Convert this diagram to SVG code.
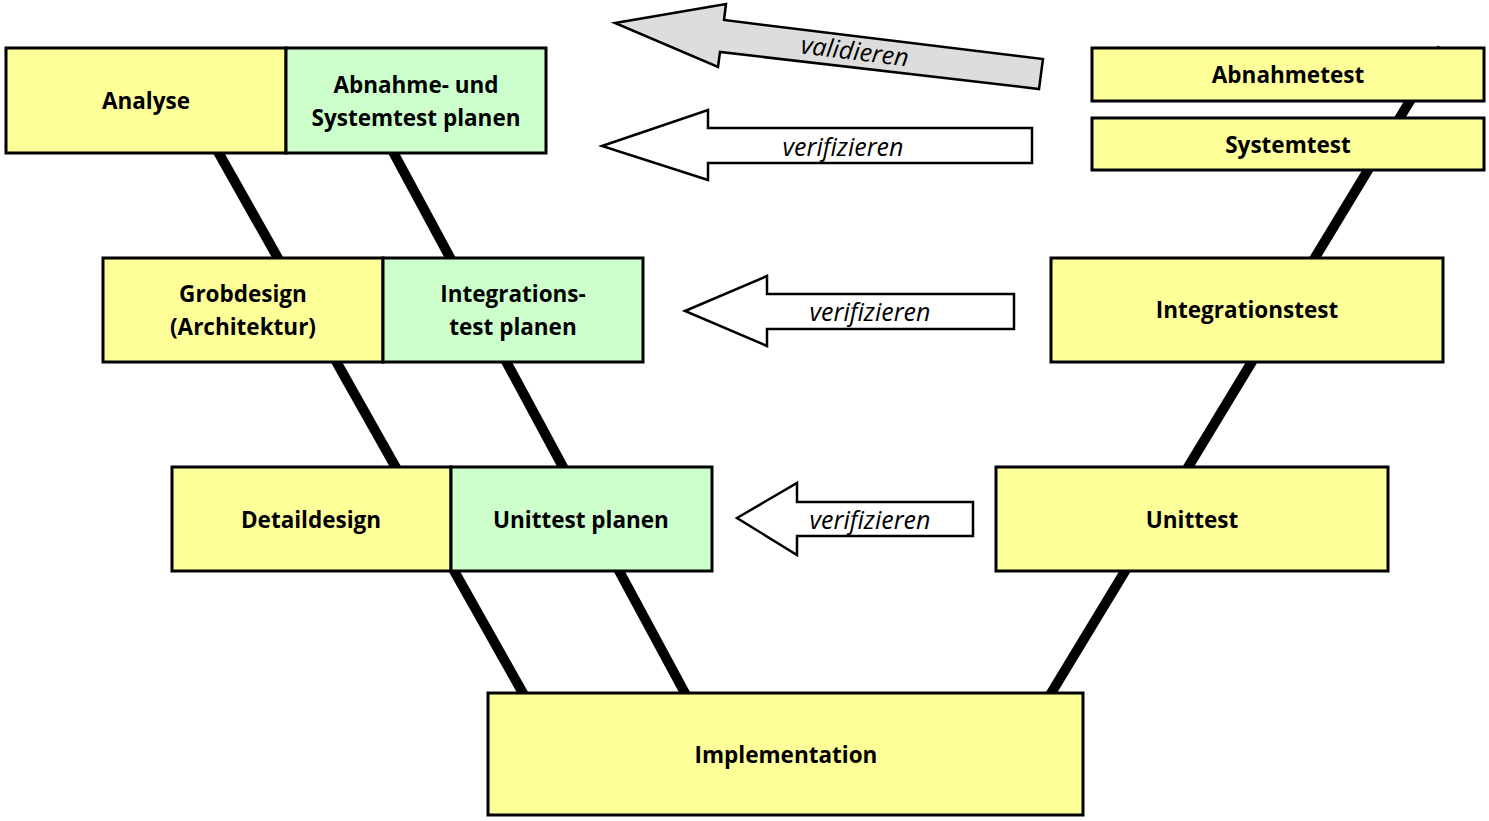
<svg xmlns="http://www.w3.org/2000/svg" width="1489" height="821" viewBox="0 0 1489 821">
<style>
.y{fill:#FFFF99;stroke:#000;stroke-width:3}
.g{fill:#CCFFCC;stroke:#000;stroke-width:3}
.t{font-family:"Open Sans","Liberation Sans",sans-serif;font-weight:bold;font-size:22.5px;text-anchor:middle;dominant-baseline:central;fill:#000}
.v{font-family:"Open Sans","Liberation Sans",sans-serif;font-style:italic;font-size:25px;text-anchor:middle;dominant-baseline:central;fill:#000}
.c{stroke:#000;stroke-width:10;fill:none}
.a{fill:#fff;stroke:#000;stroke-width:2.5;stroke-linejoin:miter}
</style>
<rect width="1489" height="821" fill="#fff"/>
<g id="connectors">
<line class="c" x1="217" y1="150" x2="524" y2="695"/>
<line class="c" x1="392" y1="150" x2="686" y2="695"/>
<line class="c" x1="1050" y1="695" x2="1442" y2="48"/>
</g>
<g id="analyse"><rect class="y" x="6" y="48" width="280" height="105"/><text class="t" x="146" y="100">Analyse</text></g>
<g id="abnahme-plan"><rect class="g" x="286" y="48" width="260" height="105"/><text class="t" x="416" y="84">Abnahme- und</text><text class="t" x="416" y="117">Systemtest planen</text></g>
<g id="grobdesign"><rect class="y" x="103" y="258" width="280" height="104"/><text class="t" x="243" y="293">Grobdesign</text><text class="t" x="243" y="326">(Architektur)</text></g>
<g id="integration-plan"><rect class="g" x="383" y="258" width="260" height="104"/><text class="t" x="513" y="293">Integrations-</text><text class="t" x="513" y="326">test planen</text></g>
<g id="detaildesign"><rect class="y" x="172" y="467" width="279" height="104"/><text class="t" x="311" y="519">Detaildesign</text></g>
<g id="unittest-plan"><rect class="g" x="451" y="467" width="261" height="104"/><text class="t" x="581" y="519">Unittest planen</text></g>
<g id="implementation"><rect class="y" x="488" y="693" width="595" height="122"/><text class="t" x="786" y="754">Implementation</text></g>
<g id="abnahmetest"><rect class="y" x="1092" y="48" width="392" height="53"/><text class="t" x="1288" y="74">Abnahmetest</text></g>
<g id="systemtest"><rect class="y" x="1092" y="118" width="392" height="52"/><text class="t" x="1288" y="144">Systemtest</text></g>
<g id="integrationstest"><rect class="y" x="1051" y="258" width="392" height="104"/><text class="t" x="1247" y="309">Integrationstest</text></g>
<g id="unittest"><rect class="y" x="996" y="467" width="392" height="104"/><text class="t" x="1192" y="519">Unittest</text></g>
<g id="arrow-validieren">
<polygon class="a" style="fill:#DDDDDD" points="615,23 726,4 724,20 1043,59 1039,89 720,52 718,67"/>
<text class="v" x="855" y="50" transform="rotate(7 855 50)">validieren</text>
</g>
<g id="arrow-verifizieren-1">
<polygon class="a" points="602,146 708,110 708,128 1032,128 1032,163 708,163 708,180"/>
<text class="v" x="843" y="146">verifizieren</text>
</g>
<g id="arrow-verifizieren-2">
<polygon class="a" points="685,311 767,276 767,294 1014,294 1014,329 767,329 767,346"/>
<text class="v" x="870" y="311">verifizieren</text>
</g>
<g id="arrow-verifizieren-3">
<polygon class="a" points="737,518 797,483 797,502 973,502 973,536 797,536 797,555"/>
<text class="v" x="870" y="519">verifizieren</text>
</g>
</svg>
